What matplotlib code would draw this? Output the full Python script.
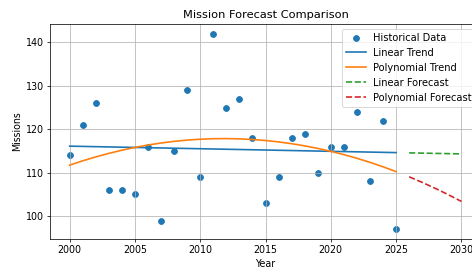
import numpy as np
import matplotlib
matplotlib.use("Agg")
import matplotlib.pyplot as plt

# yearly mission counts
years = np.arange(2000, 2026)
missions = np.array([114, 121, 126, 106, 106, 105, 116, 99, 115, 129,
                     109, 142, 125, 127, 118, 103, 109, 118, 119, 110,
                     116, 116, 124, 108, 122, 97])
future_years = np.arange(2026, 2031)

# trends fitted on the historical data
lin = np.poly1d(np.polyfit(years, missions, 1))
poly = np.poly1d(np.polyfit(years, missions, 2))

plt.rcParams["font.size"] = 10.4
plt.rcParams["lines.linewidth"] = 1.8

W, H = 472, 268
dpi = 66
fig = plt.figure(figsize=(W / dpi, H / dpi), dpi=dpi)
# axes run past the right edge, like the cropped reference
ax = fig.add_axes([50 / W, 29 / H, 431 / W, 215 / H])

ax.scatter(years, missions, s=40, label="Historical Data")
ax.plot(years, lin(years), label="Linear Trend")
ax.plot(years, poly(years), label="Polynomial Trend")
ax.plot(future_years, lin(future_years), "--", label="Linear Forecast")
ax.plot(future_years, poly(future_years), "--", label="Polynomial Forecast")

ax.set_title("Mission Forecast Comparison")
ax.set_xlabel("Year")
ax.set_ylabel("Missions")
ax.grid(True)
ax.legend(loc="upper right", fontsize=10.8)

fig.savefig("out.png", dpi=dpi)
